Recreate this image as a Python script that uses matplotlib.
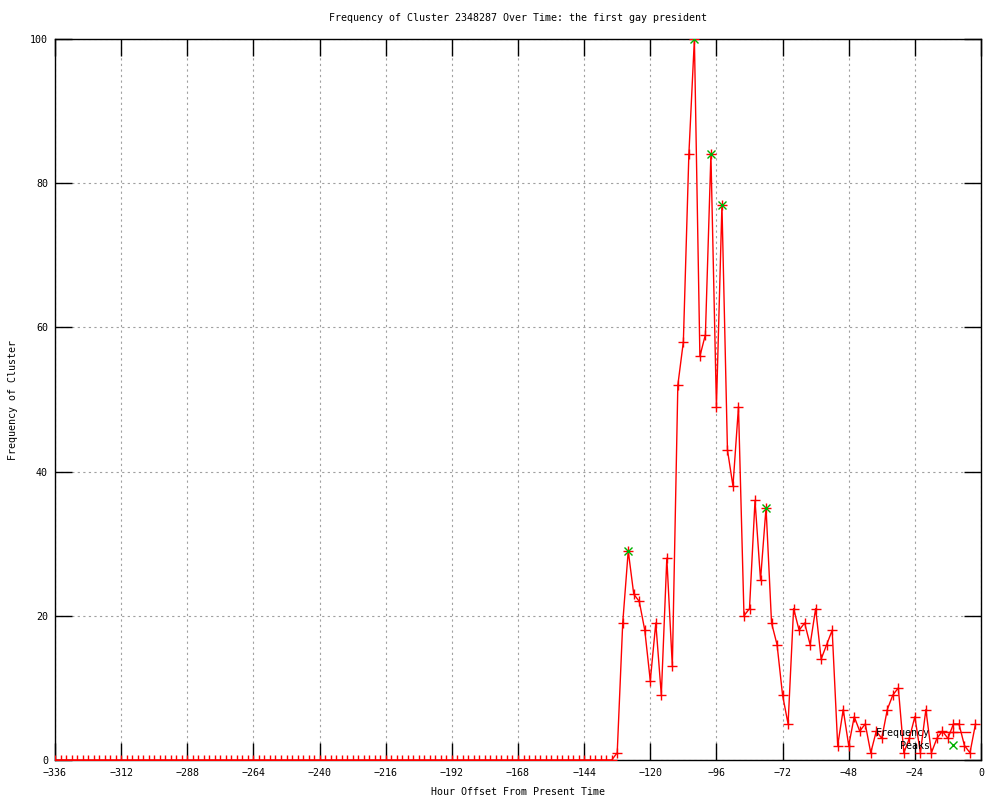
import matplotlib
matplotlib.use("Agg")
import matplotlib.pyplot as plt
from matplotlib.lines import Line2D

hours = list(range(-336, 0, 2))
frequency = [
    0, 0, 0, 0, 0, 0, 0, 0, 0, 0, 0, 0, 0, 0, 0, 0, 0,
    0, 0, 0, 0, 0, 0, 0, 0, 0, 0, 0, 0, 0, 0, 0, 0, 0,
    0, 0, 0, 0, 0, 0, 0, 0, 0, 0, 0, 0, 0, 0, 0, 0, 0,
    0, 0, 0, 0, 0, 0, 0, 0, 0, 0, 0, 0, 0, 0, 0, 0, 0,
    0, 0, 0, 0, 0, 0, 0, 0, 0, 0, 0, 0, 0, 0, 0, 0, 0,
    0, 0, 0, 0, 0, 0, 0, 0, 0, 0, 0, 0, 0, 0, 0, 0, 0,
    1, 19, 29, 23, 22, 18, 11, 19, 9, 28, 13, 52, 58, 84, 100, 56, 59,
    84, 49, 77, 43, 38, 49, 20, 21, 36, 25, 35, 19, 16, 9, 5, 21,
    18, 19, 16, 21, 14, 16, 18, 2, 7, 2, 6, 4, 5, 1, 4, 3,
    7, 9, 10, 1, 3, 6, 1, 7, 1, 3, 4, 3, 5, 5, 2, 1, 5,
]
peak_hours = [-128, -104, -98, -94, -78]
peak_values = [29, 100, 84, 77, 35]

x_ticks = [-336, -312, -288, -264, -240, -216, -192, -168, -144, -120, -96, -72, -48, -24, 0]
y_ticks = [0, 20, 40, 60, 80, 100]

title = "Frequency of Cluster 2348287 Over Time: the first gay president"
xlabel = "Hour Offset From Present Time"
ylabel = "Frequency of Cluster"

FONT = "DejaVu Sans Mono"
FS = 7.2
plt.rcParams["font.family"] = FONT

fig = plt.figure(figsize=(10, 8), dpi=100)
ax = fig.add_axes([0.055, 0.05, 0.926, 0.90125])

red = "#ff0000"
green = "#00b000"

ax.plot(hours, frequency, color=red, lw=1.0, marker="+", ms=7, mew=1.0, zorder=3)
ax.plot(peak_hours, peak_values, linestyle="none", color=green, marker="x",
        ms=6, mew=1.0, zorder=4)

ax.set_xlim(-336, 0)
ax.set_ylim(0, 100)
ax.set_xticks(x_ticks)
ax.set_yticks(y_ticks)
ax.set_xticklabels([str(t).replace("-", "\u2212") for t in x_ticks], fontsize=FS)
ax.set_yticklabels([str(t) for t in y_ticks], fontsize=FS)
ax.tick_params(direction="in", length=12, width=1, top=True, right=True,
               colors="black", pad=5)
ax.tick_params(axis="x", pad=6)
for s in ax.spines.values():
    s.set_linewidth(1)
    s.set_color("black")

ax.grid(True, color="#a0a0a0", linestyle=(0, (2, 3)), linewidth=0.8, zorder=0)
ax.set_axisbelow(True)

handles = [
    Line2D([], [], color=red, lw=1.0, marker="+", ms=7, mew=1.0),
    Line2D([], [], color=green, lw=0, marker="x", ms=6, mew=1.0),
]
leg = ax.legend(handles, ["Frequency", "Peaks"], loc="lower right",
                bbox_to_anchor=(0.988, 0.0125), frameon=False, markerfirst=False,
                borderpad=0, handlelength=3.4, handletextpad=0.6,
                labelspacing=0.3, numpoints=1, fontsize=FS, borderaxespad=0)
leg.set_zorder(5)

fig.text(0.518, 1 - 18 / 800, title, ha="center", va="center", fontsize=FS)
fig.text(0.518, 1 - 792 / 800, xlabel, ha="center", va="center", fontsize=FS)
fig.text(0.013, 1 - 400 / 800, ylabel, ha="center", va="center", rotation=90, fontsize=FS)

fig.savefig("out.png", dpi=100)
